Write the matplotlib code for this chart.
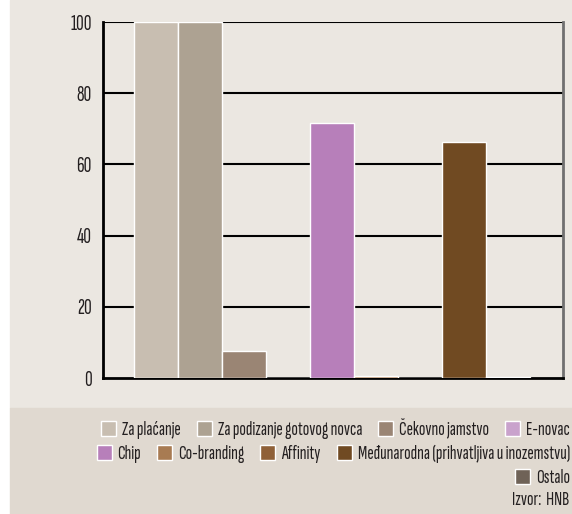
import matplotlib
matplotlib.use('Agg')
import matplotlib.pyplot as plt
from matplotlib.patches import Patch, Rectangle

plt.rcParams['font.family'] = ['Sofia Sans Extra Condensed', 'DejaVu Sans']
plt.rcParams['text.color'] = '#231f20'
plt.rcParams['ytick.labelcolor'] = '#231f20'

series = ['Za plaćanje', 'Za podizanje gotovog novca', 'Čekovno jamstvo', 'E-novac',
          'Chip', 'Co-branding', 'Affinity', 'Međunarodna (prihvatljiva u inozemstvu)',
          'Ostalo']
values = [100, 100, 7.7, 0, 71.6, 0.5, 0, 66.4, 0.3]
colors = ['#c8beb1', '#ada292', '#9a8574', '#c9a2cc', '#b77fba',
          '#a87b52', '#8f6038', '#704a22', '#6f6257']
yticks = [0, 20, 40, 60, 80, 100]

fig = plt.figure(figsize=(5.72, 5.14), dpi=100)
fig.patch.set_facecolor('white')
fig.patches.append(Rectangle((10/572, 106/514), 1 - 10/572, 1 - 106/514,
                             transform=fig.transFigure, color='#ebe7e1', zorder=-10))
fig.patches.append(Rectangle((10/572, 0), 1 - 10/572, 106/514,
                             transform=fig.transFigure, color='#e0d9d0', zorder=-10))

# fit font size so the legend text is as wide as in the source (~145 px)
r = fig.canvas.get_renderer()
probe = fig.text(0, 0, series[1], fontsize=12)
fs = 12 * 145 / probe.get_window_extent(r).width
probe.remove()
px = fs * 100 / 72

ax = fig.add_axes([103/572, 136/514, 460/572, 356/514])
ax.set_facecolor('#ebe7e1')
x = list(range(len(values)))
ax.bar(x, values, width=1.0, color=colors, edgecolor='white', linewidth=1, zorder=3)
ax.set_xlim(-1.205, 9.25)
ax.set_ylim(0, 100)
ax.set_yticks(yticks)
ax.set_yticklabels([str(t) for t in yticks], fontsize=fs * 1.1)
ax.set_xticks([])
ax.tick_params(axis='y', length=0, pad=8)
for t in yticks[1:]:
    ax.axhline(t, color='black', lw=1.5, zorder=1)
for s in ['left', 'bottom']:
    ax.spines[s].set_linewidth(2)
    ax.spines[s].set_color('black')
ax.spines['top'].set_visible(False)
ax.spines['right'].set_color('#707070')
ax.spines['right'].set_linewidth(2)

handles = [Patch(facecolor=c, edgecolor='white', linewidth=1) for c in colors]
rows = [(0, 4, 429), (4, 8, 454), (8, 9, 478)]
for a, b, yc in rows:
    leg = fig.legend(handles[a:b], series[a:b], loc='center right',
                     bbox_to_anchor=(570/572, 1 - yc/514), ncol=b - a, frameon=False,
                     fontsize=fs, handlelength=15 / px, handleheight=15 / px,
                     handletextpad=6 / px, columnspacing=16 / px,
                     borderaxespad=0, borderpad=0)
fig.text(569/572, 1 - 500/514, 'Izvor:  HNB', ha='right', va='center', fontsize=fs)

fig.savefig('out.png', dpi=100, facecolor=fig.get_facecolor())
